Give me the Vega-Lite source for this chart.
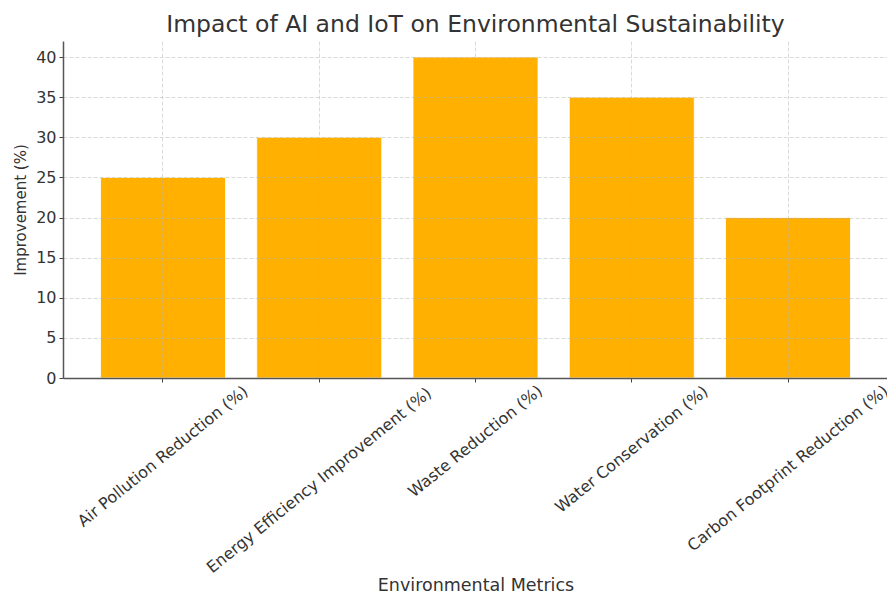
{
  "$schema": "https://vega.github.io/schema/vega-lite/v6.json",
  "autosize": "none",
  "width": 825,
  "height": 337,
  "padding": {"left": 63, "top": 41, "right": 0, "bottom": 216},
  "background": "white",
  "title": {
    "text": "Impact of AI and IoT on Environmental Sustainability",
    "font": "DejaVu Sans",
    "fontSize": 23.5,
    "fontWeight": "normal",
    "color": "#333333",
    "anchor": "middle",
    "offset": 5
  },
  "data": {
    "values": [
      {"metric": "Air Pollution Reduction (%)", "improvement": 25},
      {"metric": "Energy Efficiency Improvement (%)", "improvement": 30},
      {"metric": "Waste Reduction (%)", "improvement": 40},
      {"metric": "Water Conservation (%)", "improvement": 35},
      {"metric": "Carbon Footprint Reduction (%)", "improvement": 20}
    ]
  },
  "mark": {"type": "bar", "color": "#FFB000", "stroke": "white", "strokeWidth": 0.8},
  "encoding": {
    "x": {
      "field": "metric",
      "type": "nominal",
      "sort": null,
      "scale": {"paddingInner": 0.2, "paddingOuter": 0.24},
      "axis": {
        "title": "Environmental Metrics",
        "titleFont": "DejaVu Sans",
        "titleFontSize": 17.5,
        "titleFontWeight": "normal",
        "titleColor": "#333333",
        "titleY": 207,
        "titleBaseline": "middle",
        "labelFont": "DejaVu Sans",
        "labelFontSize": 16,
        "labelColor": "#333333",
        "labelAngle": -39,
        "labelAlign": "center",
        "labelBaseline": "middle",
        "labelPadding": {"expr": "datum.value == 'Air Pollution Reduction (%)' ? 74 : datum.value == 'Energy Efficiency Improvement (%)' ? 98 : datum.value == 'Waste Reduction (%)' ? 59 : datum.value == 'Water Conservation (%)' ? 67 : 86"},
        "labelOverlap": false,
        "labelLimit": 0,
        "tickSize": 4,
        "tickColor": "#444444",
        "domainColor": "#555555",
        "domainWidth": 1.5,
        "grid": true,
        "gridColor": "#b0b0b0",
        "gridOpacity": 0.6,
        "gridDash": [4, 2],
        "gridWidth": 0.8,
        "zindex": 1
      }
    },
    "y": {
      "field": "improvement",
      "type": "quantitative",
      "scale": {"domain": [0, 42], "nice": false},
      "axis": {
        "title": "Improvement (%)",
        "titleFont": "DejaVu Sans",
        "titleFontSize": 15,
        "titleFontWeight": "normal",
        "titleColor": "#333333",
        "titlePadding": 7,
        "labelFont": "DejaVu Sans",
        "labelFontSize": 16,
        "labelColor": "#333333",
        "labelPadding": 3,
        "values": [0, 5, 10, 15, 20, 25, 30, 35, 40],
        "tickSize": 4,
        "tickColor": "#444444",
        "domainColor": "#555555",
        "domainWidth": 1.5,
        "grid": true,
        "gridColor": "#b0b0b0",
        "gridOpacity": 0.6,
        "gridDash": [4, 2],
        "gridWidth": 0.8,
        "zindex": 1
      }
    }
  },
  "config": {"view": {"stroke": null}}
}
